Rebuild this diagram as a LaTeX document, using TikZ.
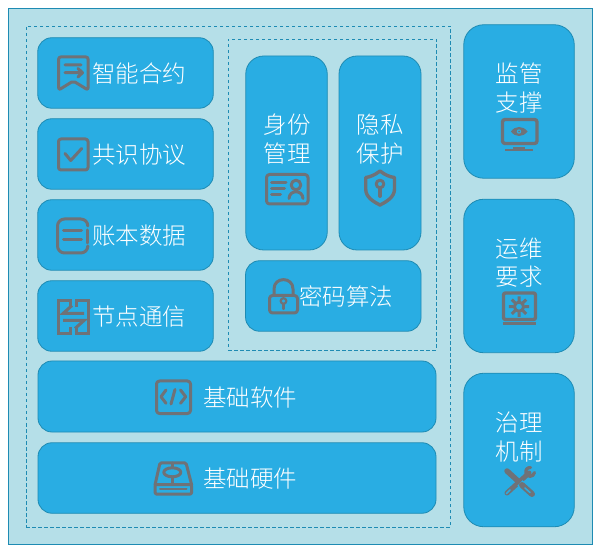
\documentclass[tikz,border=0pt]{standalone}
\usepackage{fontspec}
\newfontfamily\cjk{Noto Sans CJK SC Light}
\definecolor{panel}{HTML}{B5DFE8}
\definecolor{blockfill}{HTML}{29ADE3}
\definecolor{edge}{HTML}{1E8BB3}
\definecolor{icongray}{HTML}{6F7277}
\tikzset{
  block/.style={draw=edge,fill=blockfill,line width=0.8pt,rounded corners=14pt,inner sep=0pt,outer sep=0pt},
  tallblock/.style={block,rounded corners=18pt},
  region/.style={draw=edge,line width=0.8pt,dash pattern=on 3.5pt off 2.5pt,inner sep=0pt,outer sep=0pt},
  label/.style={text=white,font=\cjk\fontsize{23.5}{28.5}\selectfont,align=center,inner sep=0pt},
  icon/.style={draw=icongray,line width=3pt,line join=round,line cap=round},
  iconfill/.style={fill=icongray,draw=none}
}
\begin{document}
\begin{tikzpicture}[x=1pt,y=-1pt]
\useasboundingbox (0,0) rectangle (600,553);
\node[draw=edge,fill=panel,line width=0.8pt,minimum width=584.5pt,minimum height=536pt,inner sep=0pt] (outer) at (300.5,276) {};
\node[region,minimum width=424pt,minimum height=501pt] (mainregion) at (238,276.5) {};
\node[region,minimum width=208pt,minimum height=311pt] (innerregion) at (332,194.5) {};
% left column
\node[block,minimum width=175.5pt,minimum height=70.5pt] (b1) at (125.5,73) {};
\node[block,minimum width=175.5pt,minimum height=70.5pt] (b2) at (125.5,154) {};
\node[block,minimum width=175.5pt,minimum height=70.5pt] (b3) at (125.5,235) {};
\node[block,minimum width=175.5pt,minimum height=70.5pt] (b4) at (125.5,316) {};
\node[label] (t1) at (139,74) {智能合约};
\node[label] (t2) at (139,155) {共识协议};
\node[label] (t3) at (139,236) {账本数据};
\node[label] (t4) at (139,317) {节点通信};
% inner region
\node[tallblock,minimum width=81.5pt,minimum height=194pt] (b5) at (286.5,153) {};
\node[tallblock,minimum width=82pt,minimum height=194pt] (b6) at (380,153) {};
\node[block,minimum width=175.5pt,minimum height=70.5pt] (b7) at (333.3,296) {};
\node[label] (t5) at (287,139) {身份\\管理};
\node[label] (t6) at (380,139) {隐私\\保护};
\node[label] (t7) at (346,297) {密码算法};
% base
\node[block,minimum width=398pt,minimum height=71pt] (b8) at (237,396.5) {};
\node[block,minimum width=398pt,minimum height=70.5pt] (b9) at (237,478) {};
\node[label] (t8) at (250,398) {基础软件};
\node[label] (t9) at (250,479) {基础硬件};
% right column
\node[tallblock,rounded corners=20pt,minimum width=110.5pt,minimum height=153.5pt] (b10) at (519,101.5) {};
\node[tallblock,rounded corners=20pt,minimum width=110.5pt,minimum height=153.5pt] (b11) at (519,276) {};
\node[tallblock,rounded corners=20pt,minimum width=110.5pt,minimum height=153.5pt] (b12) at (519,450) {};
\node[label] (t10) at (519,88) {监管\\支撑};
\node[label] (t11) at (519,262.5) {运维\\要求};
\node[label] (t12) at (519,437) {治理\\机制};
% bookmark
\draw[icon,rounded corners=2pt] (58.7,57) -- (88,57) -- (88,90) -- (73.3,81) -- (58.7,90) -- cycle;
\draw[icon] (65,65) -- (81,65) (65,72.7) -- (82,72.7) (78,68.5) -- (82.5,72.7) -- (78,77);
% check
\draw[icon,rounded corners=2.5pt] (58.5,139) rectangle (88,170);
\draw[icon] (65,153.5) -- (70.7,160.5) -- (81.7,148.5);
% ledger
\draw[icon,rounded corners=7pt] (87.8,226) -- (87.8,219) -- (57.5,219) -- (57.5,253) -- (87.8,253) -- (87.8,247);
\draw[icon] (87.8,230) -- (87.8,243);
\draw[icon] (63.5,231) -- (81.5,231) (63.5,240) -- (81.5,240);
% network
\draw[icon,line cap=butt,line join=miter] (70,307) -- (70,300.5) -- (58.5,300.5) -- (58.5,333.5) -- (70,333.5) -- (70,327);
\draw[icon,line cap=butt,line join=miter] (76.5,307) -- (76.5,300.5) -- (88.5,300.5) -- (88.5,333.5) -- (76.5,333.5) -- (76.5,327);
\draw[icon,line cap=butt,line join=miter] (84,313.5) -- (63,313.5) -- (72,305.5);
\draw[icon,line cap=butt,line join=miter] (63,320.5) -- (84,320.5) -- (75,328.5);
% ID card
\draw[icon,rounded corners=3pt] (266.5,174.5) rectangle (308,204);
\draw[icon] (271.5,182.7) -- (286,182.7) (271.5,189) -- (284.5,189) (271.5,195) -- (280.5,195);
\draw[icon] (296,185) circle (4.8pt);
\draw[icon] (289,198.5) .. controls (289.5,189.5) and (302.5,189.5) .. (303,198.5);
% shield
\draw[icon,line width=3.4pt] (380,171) .. controls (385,175) and (390,177) .. (394.5,177.5) -- (394.5,189) .. controls (394.5,197) and (387,201.5) .. (380,205) .. controls (373,201.5) and (365.7,197) .. (365.7,189) -- (365.7,177.5) .. controls (370,177) and (375,175) .. (380,171) -- cycle;
\draw[icon] (380,184) circle (3.8pt);
\draw[icon,line width=4pt] (380,188.5) -- (380,196);
% lock
\draw[icon,rounded corners=3pt] (269.5,295.5) rectangle (297.5,313);
\draw[icon] (274,295) -- (274,289) .. controls (274,276.5) and (293,276.5) .. (293,289) -- (293,295);
\draw[icon,line width=2.2pt] (283.5,301) circle (2.8pt);
\draw[icon,line width=2.2pt] (283.5,304) -- (283.5,309);
% monitor eye
\draw[icon,line width=3.4pt,rounded corners=2.5pt] (502.5,119.5) rectangle (537,143.5);
\path[iconfill] (511,131.5) .. controls (515,125.5) and (523,125.5) .. (527.5,131.5) .. controls (523,137.5) and (515,137.5) .. (511,131.5) -- cycle;
\path[fill=blockfill] (519,131.5) circle (2.2pt);
\path[iconfill] (519,131.5) circle (1pt);
\path[iconfill] (513,147) rectangle (525,149);
\path[iconfill] (505,149) rectangle (533,151.5);
% monitor gear
\draw[icon,line width=3.4pt,rounded corners=2pt] (503.5,293) rectangle (535.5,319.5);
\draw[icon,line width=3.4pt,line cap=butt] (502.5,323.8) -- (536,323.8);
\draw[icon,line width=3pt] (519,306.7) circle (4.6pt);
\draw[icon,line cap=butt,line width=3pt]
  (519,301) -- (519,296.5) (519,312.4) -- (519,316.9)
  (513.3,306.7) -- (508.8,306.7) (524.7,306.7) -- (529.2,306.7)
  (515,302.7) -- (511.8,299.5) (523,310.7) -- (526.2,313.9)
  (523,302.7) -- (526.2,299.5) (515,310.7) -- (511.8,313.9);
% tools
\draw[icon,line width=5pt] (507,493) -- (529,473);
\draw[icon,line width=3.2pt] (534.5,472.5) .. controls (533.5,477.5) and (527,477.5) .. (526,473) .. controls (525,469.5) and (527.5,467.5) .. (530.5,467.5);
\draw[blockfill,line width=1.5pt,line cap=round] (506.5,493.5) -- (510,490);
\draw[icon,line width=5.5pt] (507,471) -- (518,481);
\draw[blockfill,line width=7.5pt,line cap=butt] (520,483) -- (533,495);
\draw[icon,line width=6pt] (522,485) -- (532,494);
\draw[blockfill,line width=1.5pt,line cap=round] (525,488) -- (530,492.5);
% code
\draw[icon,rounded corners=3pt] (156.5,381) rectangle (190.5,413.5);
\draw[icon] (166,390) -- (161,396.7) -- (166,403.3);
\draw[icon] (175,389.5) -- (171,404);
\draw[icon] (180.5,390) -- (185.7,396.7) -- (180.5,403.3);
% drive
\draw[icon,rounded corners=1.5pt] (155,485) -- (160,462.8) -- (186,462.8) -- (191.7,485);
\draw[icon,rounded corners=2pt] (155,484.5) rectangle (191.7,494.2);
\draw[icon] (172.3,472.3) ellipse (8.5pt and 4.5pt);
\draw[icon] (172.3,463) -- (172.3,467.5) (172.3,477) -- (172.3,484);
\draw[icon,line width=2pt] (160,489.3) -- (186.5,489.3);
\end{tikzpicture}
\end{document}
